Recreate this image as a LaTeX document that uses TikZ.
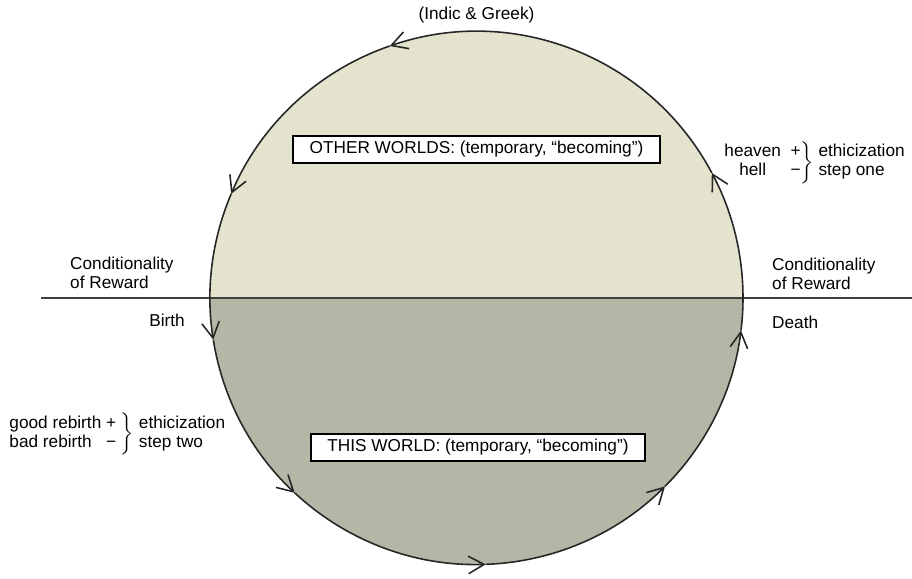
\documentclass[tikz,border=0pt]{standalone}
\usepackage{fontspec}
\setmainfont{Liberation Sans}
\usepackage{tikz}
\usetikzlibrary{arrows.meta,positioning}
\definecolor{upperworld}{RGB}{228,228,206}
\definecolor{lowerworld}{RGB}{180,182,166}

\begin{document}
\begin{tikzpicture}[font=\fontsize{9.8}{10.8}\selectfont,
        rim/.style={line width=0.9pt, draw=black!85, -{Straight Barb[length=9pt,width=10pt,line width=0.9pt]}},
        worldbox/.style={draw, fill=white, line width=0.8pt, inner xsep=0.33cm, inner ysep=0pt, minimum height=0.54cm}]
        \def\R{5.33}
        \useasboundingbox (-9.53,-5.62) rectangle (8.71,5.96);
        \fill[upperworld] (0:\R) arc (0:180:\R) -- cycle;
        \fill[lowerworld] (180:\R) arc (180:360:\R) -- cycle;
        \draw[line width=1.1pt, black!75] (-8.71,0) -- (8.71,0);
        % cycle of rebirth, counterclockwise
        \foreach \a/\b in {28/109,109/157,157/189,189/227,227/272,272/315,315/353,353/388}
            \draw[rim] (\a:\R) arc (\a:\b:\R);
        \node (source) at (0,5.66) {(Indic \& Greek)};
        \node[worldbox] (other) at (0,2.97) {OTHER WORLDS: (temporary, ``becoming'')};
        \node[worldbox] (this) at (0.03,-2.99) {THIS WORLD: (temporary, ``becoming'')};
        \node[anchor=west, align=left] (condleft) at (-8.25,0.5) {Conditionality\\of Reward};
        \node[anchor=west, align=left] (condright) at (5.79,0.49) {Conditionality\\of Reward};
        \node[anchor=east] (birth) at (-5.71,-0.44) {Birth};
        \node[anchor=west] (death) at (5.79,-0.48) {Death};
        \node[anchor=west, inner sep=0pt] (stepone) at (4.91,2.71)
            {$\left.\begin{tabular}{@{}c@{\ \ }c@{}}heaven & + \\ hell & −\end{tabular}\right\}$\ \begin{tabular}{@{}l@{}}ethicization\\ step one\end{tabular}};
        \node[anchor=west, inner sep=0pt] (steptwo) at (-9.39,-2.72)
            {$\left.\begin{tabular}{@{}l@{\ }c@{\ }}good rebirth & + \\ bad rebirth & −\end{tabular}\right\}$\ \begin{tabular}{@{}l@{}}ethicization\\ step two\end{tabular}};
\end{tikzpicture}
\end{document}
